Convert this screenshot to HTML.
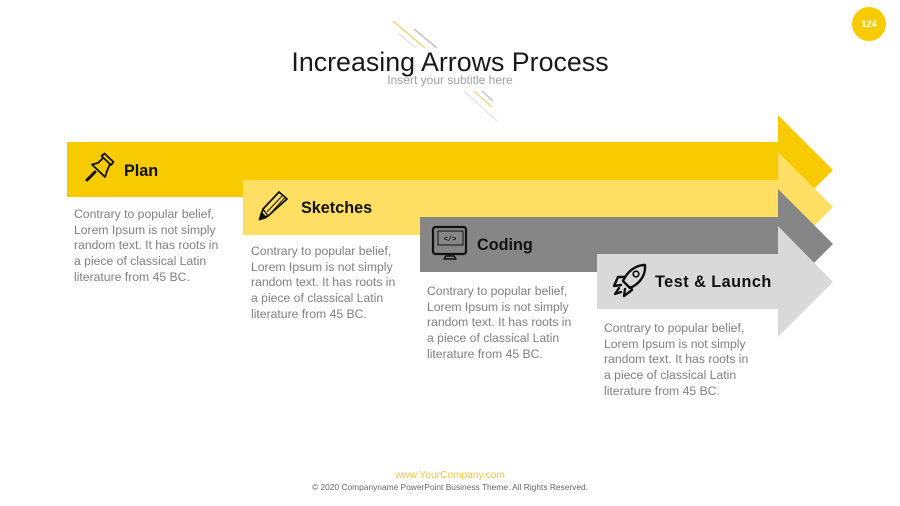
<!DOCTYPE html>
<html>
<head>
<meta charset="utf-8">
<style>
html,body{margin:0;padding:0;background:#fff}
#p{position:relative;width:900px;height:506px;overflow:hidden;background:#fff;font-family:"Liberation Sans",sans-serif}
#p svg{position:absolute;left:0;top:0}
.t{position:absolute;white-space:nowrap}
.h{font-weight:bold;font-size:16.2px;color:#111;line-height:20px}
.b{font-size:12.2px;line-height:15.7px;color:#7f7f7f;white-space:nowrap}
</style>
</head>
<body>
<div id="p">
<svg width="900" height="506" viewBox="0 0 900 506">
  <g fill="none" stroke-width="1.5">
    <line x1="393" y1="21" x2="425" y2="48" stroke="#e9d98a"/>
    <line x1="414" y1="29" x2="437" y2="48" stroke="#c4c4c4"/>
    <line x1="399" y1="34" x2="416" y2="48" stroke="#e6e6e6"/>
    <line x1="474" y1="91" x2="492" y2="107" stroke="#e9d98a"/>
    <line x1="482" y1="91" x2="493" y2="101" stroke="#c4c4c4"/>
    <line x1="464" y1="91" x2="497" y2="121" stroke="#e6e6e6"/>
  </g>
  <circle cx="869" cy="24" r="17" fill="#f8cb00"/>
  <polygon fill="#f8cb00" points="67,142 778,142 778,115 833,170 778,225 778,197 67,197"/>
  <polygon fill="#ffdf63" points="243,180 778,180 778,152 833,207 778,262 778,235 243,235"/>
  <polygon fill="#868686" points="420,217 778,217 778,189 833,244 778,299 778,272 420,272"/>
  <polygon fill="#d9d9d9" points="597,254 778,254 778,226 833,282 778,337 778,309 597,309"/>

  <!-- pin -->
  <g fill="none" stroke="#111" stroke-width="1.800" stroke-linejoin="round" stroke-linecap="round">
    <path d="M101.500 156 L104.500 153.500 L113.500 162 L111 165 Z"/>
    <path d="M103 158 L98 163 L92 164.500 L105 177 L107 171 L110 164"/>
    <path d="M95 172 L87 180" stroke-width="3"/>
  </g>
  <!-- pencil -->
  <g fill="none" stroke="#111" stroke-width="1.800" stroke-linejoin="round">
    <path d="M279 192 L287 199 L268 216 L260 219 L263 209 Z"/>
    <path d="M267 212 L282 196 M270 214 L284.500 198" stroke-width="1"/>
    <path d="M263 209 L268 216" stroke-width="1.300"/>
    <path d="M259.500 219.500 L261.500 213 L266 217.500 Z" fill="#111"/>
  </g>
  <!-- monitor -->
  <g fill="none" stroke="#111" stroke-linejoin="round">
    <rect x="433" y="227" width="33" height="27" rx="2.500" stroke-width="2.200"/>
    <rect x="438" y="231" width="25" height="14" stroke-width="1"/>
    <path d="M450 254 V256 M444 259 L446 256 H454 L456 259 Z" stroke-width="1.500"/>
    <text x="450" y="241" font-size="7" font-weight="bold" text-anchor="middle" fill="#111" stroke="none" font-family="Liberation Mono, monospace">&lt;/&gt;</text>
  </g>
  <!-- rocket -->
  <g fill="none" stroke="#111" stroke-width="2.400" stroke-linejoin="round" stroke-linecap="round">
    <path d="M645 265 C635 265 627 272 623 281 L630 288 C639 284 646 276 645 265 Z"/>
    <circle cx="636" cy="274" r="2.800" stroke-width="1.700"/>
    <path d="M625 277 L618 277 L614 286 L621 285"/>
    <path d="M631 287 L632 290 L624 296 L625 289"/>
    <path d="M619 288 L615 294 L621 292"/>
  </g>
</svg>

<div class="t" style="left:0;width:900px;text-align:center;top:45px;font-size:26.800px;line-height:34px;color:#1a1a1a">Increasing Arrows Process</div>
<div class="t" style="left:0;width:900px;text-align:center;top:73px;font-size:12px;line-height:15px;color:#a0a0a0">Insert your subtitle here</div>
<div class="t" style="left:852px;width:34px;text-align:center;top:18.500px;font-size:9.500px;line-height:12px;font-weight:bold;color:#fff">124</div>

<div class="t h" style="left:124px;top:161px">Plan</div>
<div class="t h" style="left:301px;top:198px">Sketches</div>
<div class="t h" style="left:477px;top:235px">Coding</div>
<div class="t h" style="left:655px;top:272px;letter-spacing:.5px">Test &amp; Launch</div>

<div class="t b" style="left:74px;top:207px">Contrary to popular belief,<br>Lorem Ipsum is not simply<br>random text. It has roots in<br>a piece of classical Latin<br>literature from 45 BC.</div>
<div class="t b" style="left:251px;top:244px">Contrary to popular belief,<br>Lorem Ipsum is not simply<br>random text. It has roots in<br>a piece of classical Latin<br>literature from 45 BC.</div>
<div class="t b" style="left:427px;top:284px">Contrary to popular belief,<br>Lorem Ipsum is not simply<br>random text. It has roots in<br>a piece of classical Latin<br>literature from 45 BC.</div>
<div class="t b" style="left:604px;top:321px">Contrary to popular belief,<br>Lorem Ipsum is not simply<br>random text. It has roots in<br>a piece of classical Latin<br>literature from 45 BC.</div>

<div class="t" style="left:0;width:900px;text-align:center;top:470px;font-size:10.200px;line-height:12px;color:#e8c84a">www.YourCompany.com</div>
<div class="t" style="left:0;width:900px;text-align:center;top:481px;font-size:8.400px;line-height:12px;color:#666">© 2020 Companyname PowerPoint Business Theme. All Rights Reserved.</div>
</div>
</body>
</html>
